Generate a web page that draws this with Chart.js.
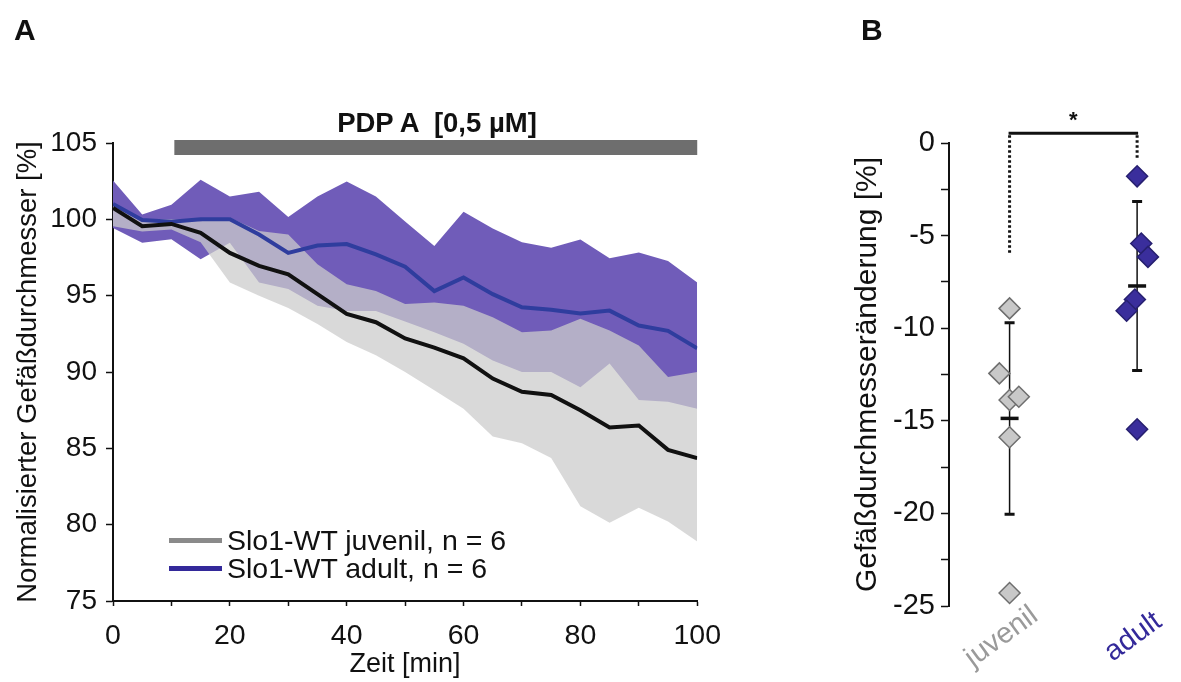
<!DOCTYPE html>
<html>
<head>
<meta charset="utf-8">
<script src="https://cdn.jsdelivr.net/npm/chart.js@4.4.1/dist/chart.umd.min.js"></script>
<style>
  html, body { margin: 0; padding: 0; background: #fff; }
  body { width: 1181px; height: 682px; position: relative; overflow: hidden;
         font-family: "Liberation Sans", Arial, sans-serif; color: #111; }
  .box { position: absolute; top: 0; height: 682px; }
  #boxA { left: 0; width: 734px; }
  #boxB { left: 850px; width: 331px; }
  .tag { position: absolute; font-weight: bold; font-size: 30px; line-height: 30px; }
  #title { position: absolute; left: 287px; width: 300px; top: 108px; text-align: center;
           font-weight: bold; font-size: 27.5px; line-height: 30px; white-space: pre; }
  #legend { position: absolute; left: 169px; top: 526px; font-size: 28.5px; }
  #legend .row { display: flex; align-items: center; height: 28px; }
  #legend .sw { width: 53px; height: 5px; margin-right: 5px; }
</style>
</head>
<body>
<div class="box" id="boxA"><canvas id="chartA" width="734" height="682"></canvas></div>
<div class="box" id="boxB"><canvas id="chartB" width="331" height="682"></canvas></div>
<div class="tag" style="left:14px; top:15px;">A</div>
<div class="tag" style="left:861px; top:15px;">B</div>
<div id="title">PDP A  [0,5 µM]</div>
<div id="legend">
  <div class="row"><span class="sw" style="background:#8a8a8a"></span>Slo1-WT juvenil, n = 6</div>
  <div class="row"><span class="sw" style="background:#33299a"></span>Slo1-WT adult, n = 6</div>
</div>
<script>
// ---- panel A: normalised diameter over time ----
const timeMin  = [0, 5, 10, 15, 20, 25, 30, 35, 40, 45, 50, 55, 60, 65, 70, 75, 80, 85, 90, 95, 100];
const juvMean  = [100.75, 99.55, 99.7, 99.12, 97.8, 96.95, 96.4, 95.1, 93.8, 93.26, 92.2, 91.6, 90.9, 89.57, 88.7, 88.5, 87.5, 86.36, 86.5, 84.9, 84.36];
const juvUpper = [100.96, 100.0, 100.0, 99.88, 100.1, 99.23, 99.0, 97.06, 95.75, 95.3, 94.45, 94.56, 94.34, 93.58, 92.6, 92.72, 93.48, 92.72, 91.74, 89.68, 90.0];
const juvLower = [99.55, 99.2, 99.34, 98.5, 95.86, 95.0, 94.2, 93.15, 91.96, 91.1, 90.0, 88.8, 87.6, 85.78, 85.34, 84.36, 81.2, 80.13, 81.1, 80.2, 78.9];
const adMean   = [101.0, 99.95, 99.85, 100.0, 100.0, 99.0, 97.8, 98.28, 98.38, 97.7, 96.9, 95.3, 96.19, 95.1, 94.24, 94.08, 93.84, 94.02, 93.04, 92.7, 91.55];
const adUpper  = [102.55, 100.31, 100.96, 102.6, 101.5, 101.8, 100.16, 101.5, 102.48, 101.5, 99.85, 98.25, 100.5, 99.4, 98.5, 98.14, 98.68, 97.45, 97.83, 97.27, 95.86];
const adLower  = [99.44, 98.47, 98.69, 97.38, 98.47, 95.86, 95.43, 94.34, 94.0, 94.0, 93.3, 92.6, 91.85, 90.76, 90.0, 90.0, 89.0, 90.55, 88.16, 88.05, 87.6];
const drugTime = [10.5, 100];   // PDP A application window [min]

// ---- panel B: diameter change per animal ----
const groups     = ['juvenil', 'adult'];
const groupPos   = [1, 3];
const juvChange  = [-8.93, -12.44, -13.88, -13.7, -15.89, -24.3];
const juvJitter  = [0, -0.16, 0, 0.145, 0, 0];
const adChange   = [-1.8, -5.43, -6.15, -8.45, -9.06, -15.46];
const adJitter   = [0, 0.065, 0.17, -0.035, -0.165, 0];
const groupMean  = [-14.87, -7.72];
const groupSD    = [5.17, 4.56];
const sigDrop    = [-5.95, -0.93];  // lower ends of the dotted bracket legs

const FONT = '"Liberation Sans", Arial, sans-serif';
Chart.defaults.font.family = FONT;
Chart.defaults.color = '#111';

const pts = (xs, ys) => xs.map((x, i) => ({ x: x, y: ys[i] }));

const bandStyle = { pointRadius: 0, borderWidth: 0, tension: 0 };

new Chart(document.getElementById('chartA'), {
  type: 'line',
  data: {
    datasets: [
      { data: pts(timeMin, juvMean), borderColor: '#111', borderWidth: 4, pointRadius: 0, fill: false },
      { data: pts(timeMin, adMean), borderColor: '#2f3d9e', borderWidth: 4, pointRadius: 0, fill: false },
      { data: drugTime.map(t => ({ x: t, y: 104.7 })), borderColor: '#6e6e6e', borderWidth: 15,
        borderCapStyle: 'butt', pointRadius: 0, fill: false, clip: false },
      { ...bandStyle, data: pts(timeMin, juvUpper), fill: '+1', backgroundColor: 'rgba(204,204,204,0.74)' },
      { ...bandStyle, data: pts(timeMin, juvLower), fill: false },
      { ...bandStyle, data: pts(timeMin, adUpper), fill: '+1', backgroundColor: '#705cb9' },
      { ...bandStyle, data: pts(timeMin, adLower), fill: false }
    ]
  },
  options: {
    responsive: false,
    animation: false,
    layout: { padding: { top: 143, right: 33, left: 0, bottom: 0 } },
    plugins: { legend: { display: false }, tooltip: { enabled: false } },
    scales: {
      x: {
        type: 'linear', min: 0, max: 100,
        grid: { drawOnChartArea: false, tickLength: 5, tickColor: '#111', tickWidth: 1.5 },
        border: { color: '#111', width: 2 },
        ticks: { stepSize: 10, autoSkip: false, maxRotation: 0, padding: 13,
                 font: { size: 28.5 }, color: '#111',
                 callback: v => (v % 20 === 0 ? String(v) : '') },
        title: { display: true, text: 'Zeit [min]', font: { size: 27 }, color: '#111',
                 padding: { top: 0, bottom: 1 } },
        afterFit: s => { s.height = 81; }
      },
      y: {
        min: 75, max: 105,
        grid: { drawOnChartArea: false, tickLength: 7, tickColor: '#111', tickWidth: 1.5 },
        border: { color: '#111', width: 2 },
        ticks: { stepSize: 5, padding: 9, font: { size: 28 }, color: '#111' },
        title: { display: true, text: 'Normalisierter Gefäßdurchmesser [%]', font: { size: 27.5 }, color: '#111',
                 padding: { top: 12, bottom: 0 } },
        afterFit: s => { s.width = 113; }
      }
    }
  }
});

// error bars behind the diamonds, mean bars and bracket on top
const errorBars = {
  id: 'errorBars',
  beforeDatasetsDraw(chart) {
    const { ctx, scales: { x, y } } = chart;
    ctx.save();
    ctx.strokeStyle = '#111';
    groupPos.forEach((g, i) => {
      const px = x.getPixelForValue(g);
      const top = y.getPixelForValue(groupMean[i] + groupSD[i]);
      const bot = y.getPixelForValue(groupMean[i] - groupSD[i]);
      ctx.lineWidth = 1.5;
      ctx.beginPath(); ctx.moveTo(px, top); ctx.lineTo(px, bot); ctx.stroke();
      ctx.lineWidth = 3;
      ctx.beginPath();
      ctx.moveTo(px - 5, top); ctx.lineTo(px + 5, top);
      ctx.moveTo(px - 5, bot); ctx.lineTo(px + 5, bot);
      ctx.stroke();
    });
    ctx.restore();
  },
  afterDatasetsDraw(chart) {
    const { ctx, scales: { x, y } } = chart;
    ctx.save();
    ctx.strokeStyle = '#111';
    ctx.lineWidth = 3.5;
    groupPos.forEach((g, i) => {
      const px = x.getPixelForValue(g);
      const py = y.getPixelForValue(groupMean[i]);
      ctx.beginPath(); ctx.moveTo(px - 9, py); ctx.lineTo(px + 9, py); ctx.stroke();
    });
    ctx.restore();
  },
  afterDraw(chart) {
    const { ctx, scales: { x, y } } = chart;
    const x1 = x.getPixelForValue(groupPos[0]);
    const x2 = x.getPixelForValue(groupPos[1]);
    const yb = y.getPixelForValue(0.52);
    ctx.save();
    ctx.strokeStyle = '#111';
    ctx.lineWidth = 3;
    ctx.beginPath(); ctx.moveTo(x1 - 1, yb); ctx.lineTo(x2 + 1, yb); ctx.stroke();
    ctx.setLineDash([2.5, 2.5]);
    [x1, x2].forEach((px, i) => {
      ctx.beginPath(); ctx.moveTo(px, yb + 2); ctx.lineTo(px, y.getPixelForValue(sigDrop[i])); ctx.stroke();
    });
    ctx.setLineDash([]);
    ctx.fillStyle = '#111';
    ctx.font = 'bold 22px ' + FONT;
    ctx.textAlign = 'center';
    ctx.textBaseline = 'middle';
    ctx.fillText('*', (x1 + x2) / 2, y.getPixelForValue(1.2));
    // rotated group labels
    const cols = ['#9a9a9a', '#33299a'];
    const shift = [-8, -4];
    ctx.font = '29px ' + FONT;
    groups.forEach((g, i) => {
      ctx.save();
      ctx.translate(x.getPixelForValue(groupPos[i]) + shift[i], y.bottom + 31);
      ctx.rotate(-36 * Math.PI / 180);
      ctx.fillStyle = cols[i];
      ctx.fillText(g, 0, 0);
      ctx.restore();
    });
    ctx.restore();
  }
};

new Chart(document.getElementById('chartB'), {
  type: 'scatter',
  data: {
    datasets: [
      { data: pts(juvJitter.map(j => groupPos[0] + j), juvChange), pointStyle: 'rectRot', pointRadius: 10.5,
        backgroundColor: '#c8c8c8', borderColor: '#6e6e6e', borderWidth: 1.5 },
      { data: pts(adJitter.map(j => groupPos[1] + j), adChange), pointStyle: 'rectRot', pointRadius: 10.5,
        backgroundColor: '#3a2e9c', borderColor: '#272070', borderWidth: 1.5 }
    ]
  },
  options: {
    responsive: false,
    animation: false,
    layout: { padding: { top: 143, bottom: 76, left: 0, right: 0 } },
    plugins: { legend: { display: false }, tooltip: { enabled: false } },
    scales: {
      x: { type: 'linear', min: 0.05, max: 3.5, display: false },
      y: {
        min: -25, max: 0,
        grid: { drawOnChartArea: false, tickLength: 8, tickColor: '#111', tickWidth: 1.5 },
        border: { color: '#111', width: 2 },
        ticks: { stepSize: 2.5, padding: 6, font: { size: 29 }, color: '#111',
                 callback: v => (v % 5 === 0 ? String(v) : '') },
        title: { display: true, text: 'Gefäßdurchmesseränderung [%]', font: { size: 30 }, color: '#111',
                 padding: { top: 0, bottom: 0 } },
        afterFit: s => { s.width = 99; }
      }
    }
  },
  plugins: [errorBars]
});
</script>
</body>
</html>
